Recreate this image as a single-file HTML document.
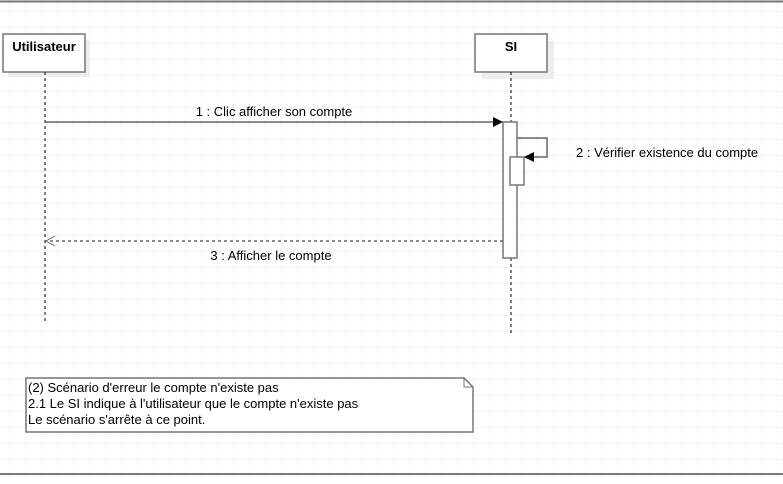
<!DOCTYPE html>
<html><head><meta charset="utf-8"><style>
body{margin:0;width:783px;height:479px;overflow:hidden;background:#fff;font-family:"Liberation Sans",sans-serif}
</style></head><body>
<svg width="783" height="479" xmlns="http://www.w3.org/2000/svg" font-family="Liberation Sans, sans-serif">
<defs>
<pattern id="g" x="9" y="11" width="16" height="16" patternUnits="userSpaceOnUse">
<path d="M0 0H16M0 0V16" stroke="#ebebeb" stroke-width="1" fill="none"/>
</pattern>
</defs>
<rect width="783" height="479" fill="url(#g)"/>
<line x1="0" y1="1.5" x2="783" y2="1.5" stroke="#777" stroke-width="2"/>
<line x1="0" y1="474" x2="783" y2="474" stroke="#777" stroke-width="2"/>
<rect x="8" y="39" width="82" height="38" fill="#eee"/>
<rect x="3" y="34" width="82" height="38" fill="#fff" stroke="#777" stroke-width="1.5"/>
<text x="44" y="51" font-size="13" font-weight="bold" text-anchor="middle">Utilisateur</text>
<rect x="482" y="41" width="72" height="38" fill="#eee"/>
<rect x="475" y="34" width="72" height="38" fill="#fff" stroke="#777" stroke-width="1.5"/>
<text x="511" y="51" font-size="13" font-weight="bold" text-anchor="middle">SI</text>
<line x1="45" y1="72" x2="45" y2="322" stroke="#000" stroke-dasharray="3,3"/>
<line x1="511" y1="72" x2="511" y2="335" stroke="#000" stroke-dasharray="3,3"/>
<rect x="503" y="122" width="14" height="136" fill="#fff" stroke="#777" stroke-width="1.5"/>
<rect x="510" y="157" width="14" height="28" fill="#fff" stroke="#777" stroke-width="1.5"/>
<line x1="45" y1="122" x2="494" y2="122" stroke="#666" stroke-width="1.5"/>
<path d="M503 122L493 117L493 127Z" fill="#000"/>
<text x="274" y="116" font-size="13" text-anchor="middle">1 : Clic afficher son compte</text>
<path d="M517 138H547V157H533" fill="none" stroke="#666" stroke-width="1.5"/>
<path d="M524 157L534 152L534 162Z" fill="#000"/>
<text x="576" y="157" font-size="13">2 : Vérifier existence du compte</text>
<line x1="503" y1="241" x2="47" y2="241" stroke="#666" stroke-width="1.5" stroke-dasharray="3,3"/>
<path d="M55 236L46 241L55 246" fill="none" stroke="#666" stroke-width="1"/>
<text x="271" y="260" font-size="13" text-anchor="middle">3 : Afficher le compte</text>
<path d="M26 378H464L473 387V432H26Z" fill="#fff" stroke="#777" stroke-width="1.5"/>
<path d="M464 378V387H473" fill="none" stroke="#777" stroke-width="1"/>
<text font-size="13"><tspan x="28" y="392">(2) Scénario d'erreur le compte n'existe pas</tspan><tspan x="28" y="408">2.1 Le SI indique à l'utilisateur que le compte n'existe pas</tspan><tspan x="28" y="424">Le scénario s'arrête à ce point.</tspan></text>
</svg>
</body></html>
